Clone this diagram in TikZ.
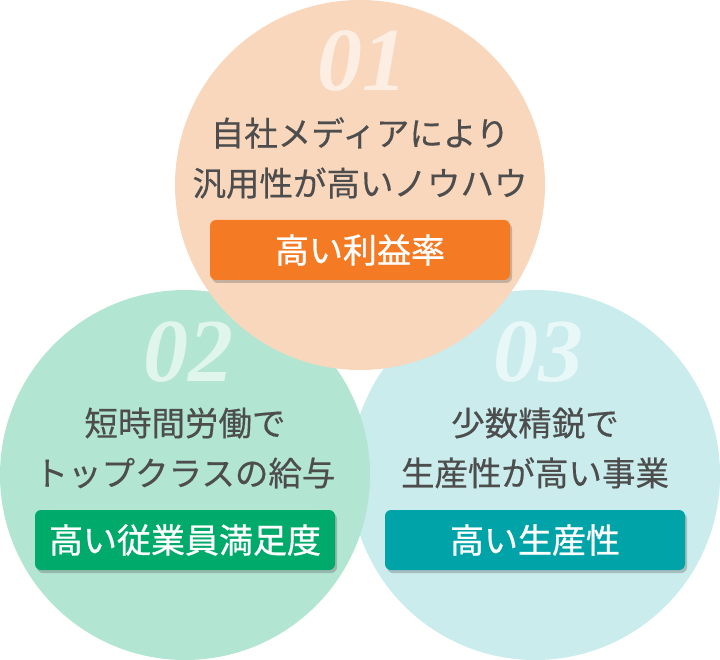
\documentclass[tikz,border=0pt]{standalone}
\usepackage{fontspec}
\newfontfamily\jp[FakeBold=0.4]{Noto Sans CJK JP}
\newfontfamily\jpb[FakeBold=0.8]{Noto Sans CJK JP}
\newfontfamily\numf{Liberation Serif}
\usetikzlibrary{shadows}
\definecolor{peach}{HTML}{F9D7BD}
\definecolor{mint}{HTML}{B2E5D2}
\definecolor{aqua}{HTML}{CAECEC}
\definecolor{btnorange}{HTML}{F47A24}
\definecolor{btngreen}{HTML}{00AA6A}
\definecolor{btnteal}{HTML}{00A4A8}
\definecolor{txtgray}{HTML}{4D4D4D}
\definecolor{numpeach}{HTML}{FDEEE4}
\definecolor{nummint}{HTML}{E0F5EC}
\definecolor{numaqua}{HTML}{E8F7F7}
\tikzset{
  bigcirc/.style={circle, inner sep=0pt, minimum size=370pt},
  numtxt/.style={font=\numf\bfseries\itshape\fontsize{90}{90}\selectfont, inner sep=0pt},
  bodytxt/.style={font=\jp\fontsize{33.5}{50}\selectfont, text=txtgray, align=center, inner sep=0pt},
  btn/.style={rounded corners=6pt, minimum width=300pt, minimum height=60pt, inner sep=0pt,
    text=white, font=\jpb\fontsize{34}{40}\selectfont,
    drop shadow={shadow xshift=2pt, shadow yshift=-3pt, opacity=0.35, fill=black!60}},
}
\begin{document}
\begin{tikzpicture}[x=1pt,y=-1pt]
\useasboundingbox (0,0) rectangle (720,660);
\node[bigcirc, fill=aqua] (c3) at (535,475) {};
\node[bigcirc, fill=mint] (c2) at (185,475) {};
\node[bigcirc, fill=peach] (c1) at (360,185) {};
% top
\node[numtxt, text=numpeach] (n1) at (362,61) {01};
\node[bodytxt] (t1) at (360,158) {自社メディアにより\\汎用性が高いノウハウ};
\node[btn, fill=btnorange] (b1) at (360,250) {高い利益率};
% left
\node[numtxt, text=nummint] (n2) at (188,352) {02};
\node[bodytxt] (t2) at (185,448) {短時間労働で\\トップクラスの給与};
\node[btn, fill=btngreen] (b2) at (185,540) {高い従業員満足度};
% right
\node[numtxt, text=numaqua] (n3) at (538,352) {03};
\node[bodytxt] (t3) at (535,448) {少数精鋭で\\生産性が高い事業};
\node[btn, fill=btnteal] (b3) at (535,540) {高い生産性};
\end{tikzpicture}
\end{document}
